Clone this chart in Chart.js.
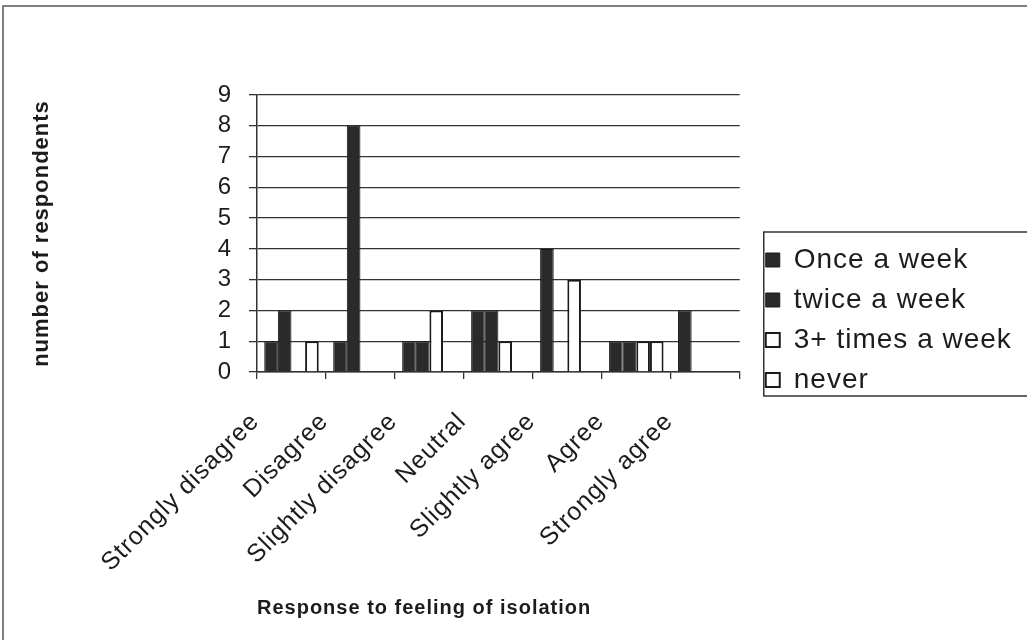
<!DOCTYPE html>
<html>
<head>
<meta charset="utf-8">
<script src="https://cdn.jsdelivr.net/npm/chart.js@4/dist/chart.umd.min.js"></script>
<style>
  html, body { margin: 0; padding: 0; background: #fff; overflow: hidden; }
  #wrap { width: 1027px; height: 640px; }
</style>
</head>
<body>
<div id="wrap"><canvas id="chart" width="1027" height="640"></canvas></div>
<script>
// categories and series
const categories = ['Strongly disagree', 'Disagree', 'Slightly disagree', 'Neutral', 'Slightly agree', 'Agree', 'Strongly agree'];
const onceAWeek = [1, 1, 1, 2, 4, 1, 2];
const twiceAWeek = [2, 8, 1, 2, 0, 1, 0];
const threePlusTimes = [0, 0, 2, 1, 3, 1, 0];
const never = [1, 0, 0, 0, 0, 1, 0];
const yTicks = [0, 1, 2, 3, 4, 5, 6, 7, 8, 9];

const FONT = "'Liberation Sans', Arial, sans-serif";
const INK = '#1c1c1c';
const LINE = '#333';
const DARK = '#2a2a2a';

// wider letter spacing like the scanned original
const spacing = {
    id: 'spacing',
    beforeLayout(chart) { chart.ctx.letterSpacing = '1px'; },
    beforeDraw(chart) { chart.ctx.letterSpacing = '1px'; }
};

// move legend items off the plot edge and draw frame + legend box
const frame = {
    id: 'frame',
    afterLayout(chart) {
        const lg = chart.legend;
        lg.left += 14;
        lg.right = chart.width + 10;
        lg.width = lg.right - lg.left;
    },
    afterDraw(chart) {
        const ctx = chart.ctx;
        const lg = chart.legend;
        const pad = lg.options.labels.padding;
        const colH = lg.columnSizes[0].height;
        const yStart = ((lg.top + pad) + (lg.bottom - colH)) / 2;

        ctx.save();
        ctx.strokeStyle = '#555';
        ctx.lineWidth = 1.5;
        ctx.beginPath();
        ctx.moveTo(3, chart.height);
        ctx.lineTo(3, 6);
        ctx.lineTo(chart.width, 6);
        ctx.stroke();

        ctx.strokeStyle = LINE;
        ctx.beginPath();
        ctx.rect(lg.left + pad - 2, yStart - 14, chart.width, colH - pad + 16);
        ctx.stroke();
        ctx.restore();
    }
};

function series(label, data, filled) {
    return {
        label: label,
        data: data,
        backgroundColor: filled ? DARK : '#fff',
        borderColor: '#1a1a1a',
        borderWidth: filled ? 1 : 2,
        categoryPercentage: 0.79,
        barPercentage: 1.0
    };
}

new Chart(document.getElementById('chart'), {
    type: 'bar',
    data: {
        labels: categories,
        datasets: [
            series('Once a week', onceAWeek, true),
            series('twice a week', twiceAWeek, true),
            series('3+ times a week', threePlusTimes, false),
            series('never', never, false)
        ]
    },
    options: {
        responsive: false,
        animation: false,
        layout: { padding: { left: 25, right: 49, top: 0, bottom: 0 } },
        plugins: {
            tooltip: { enabled: false },
            title: {
                display: true,
                text: '',
                fullSize: false,
                padding: { top: 85, bottom: 0 },
                font: { size: 10, lineHeight: 1 }
            },
            legend: {
                position: 'right',
                align: 'center',
                labels: {
                    boxWidth: 14,
                    boxHeight: 14,
                    padding: 12,
                    color: INK,
                    font: { family: FONT, size: 28 }
                }
            }
        },
        scales: {
            x: {
                grid: {
                    offset: true,
                    drawOnChartArea: true,
                    color: ctx => ctx.index === categories.length ? LINE : 'transparent',
                    tickColor: LINE,
                    lineWidth: 1.3,
                    tickLength: 7
                },
                border: { color: LINE, width: 1.5 },
                ticks: {
                    color: INK,
                    font: { family: FONT, size: 25 },
                    minRotation: 45,
                    maxRotation: 45,
                    autoSkip: false,
                    padding: 28,
                    labelOffset: -36
                },
                title: {
                    display: true,
                    text: 'Response to feeling of isolation',
                    align: 'start',
                    color: INK,
                    font: { family: FONT, size: 20, weight: 'bold' },
                    padding: { top: 4, bottom: 20 }
                },
                afterFit(scale) { scale.height = 268; }
            },
            y: {
                min: yTicks[0],
                max: yTicks[yTicks.length - 1],
                afterBuildTicks(scale) { scale.ticks = yTicks.map(v => ({ value: v })); },
                grid: { color: LINE, lineWidth: 1.3, tickLength: 8 },
                border: { color: LINE, width: 1.5 },
                ticks: {
                    color: INK,
                    font: { family: FONT, size: 24 },
                    padding: 17,
                    autoSkip: false
                },
                title: {
                    display: true,
                    text: 'number of respondents',
                    color: INK,
                    font: { family: FONT, size: 22, weight: 'bold' }
                },
                afterFit(scale) { scale.width = 232; }
            }
        }
    },
    plugins: [spacing, frame]
});
</script>
</body>
</html>
